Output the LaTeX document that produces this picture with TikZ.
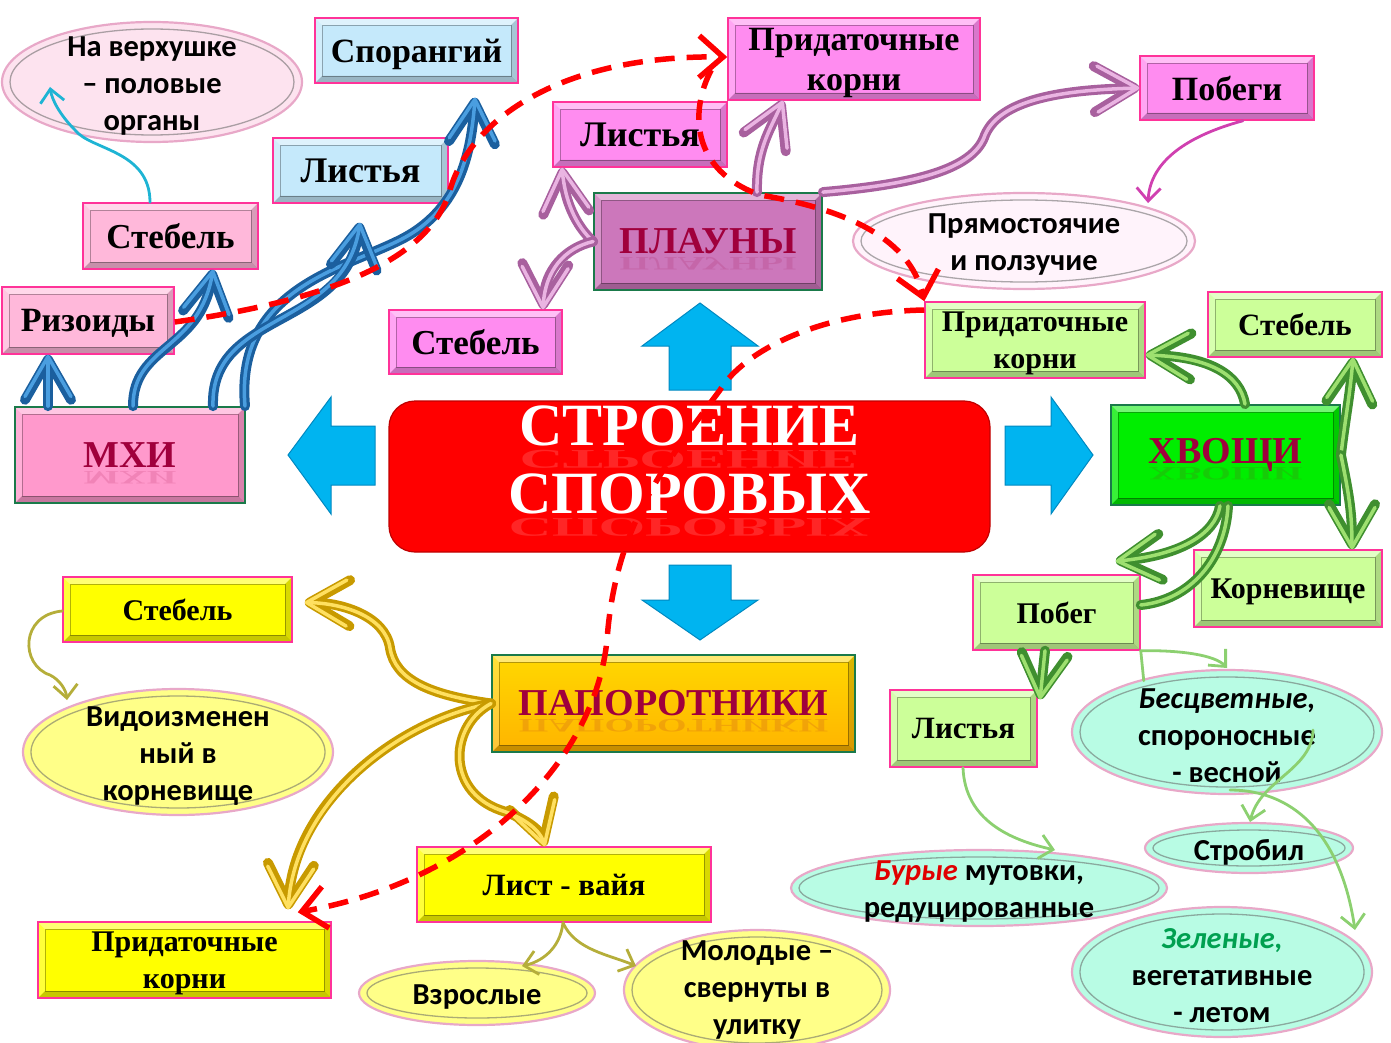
\documentclass[tikz,border=0pt]{standalone}
\usepackage{fontspec}
\setmainfont{Liberation Serif}
\newfontfamily\calib{Carlito}
\usetikzlibrary{arrows.meta,calc}

\definecolor{pinkedge}{HTML}{FF3399}
\definecolor{catedge}{HTML}{1A7A4A}
\definecolor{catred}{HTML}{A0003C}
\definecolor{mosspink}{HTML}{FFB8DA}
\definecolor{bluebox}{HTML}{C5E9FB}
\definecolor{plapink}{HTML}{FF8CF0}
\definecolor{greenbox}{HTML}{CCFF99}
\definecolor{yellowbox}{HTML}{FFFF00}
\definecolor{mxicol}{HTML}{FF99CC}
\definecolor{placol}{HTML}{CC77BB}
\definecolor{hvocol}{HTML}{00EE00}
\definecolor{papTop}{HTML}{FFD800}
\definecolor{papBot}{HTML}{FFB400}
\definecolor{titlered}{HTML}{FF0000}
\definecolor{arrowblue}{HTML}{00B4F0}
\definecolor{arrowblueD}{HTML}{0088C0}
\definecolor{ovpink}{HTML}{FDE3EF}
\definecolor{ovlight}{HTML}{FFF3FB}
\definecolor{ovmint}{HTML}{B8FCE4}
\definecolor{ovyellow}{HTML}{FFFF88}
\definecolor{ovedge}{HTML}{E8A8C8}
\definecolor{burred}{HTML}{E00000}
\definecolor{zelgreen}{HTML}{00A050}
\definecolor{mossD}{HTML}{1B5F9E}
\definecolor{mossL}{HTML}{4A9EE0}
\definecolor{plaD}{HTML}{A8609E}
\definecolor{plaL}{HTML}{EAB4E2}
\definecolor{hvoD}{HTML}{3F8F2F}
\definecolor{hvoL}{HTML}{9EE070}
\definecolor{papD}{HTML}{C89A00}
\definecolor{papL}{HTML}{FFE060}
\definecolor{thcyan}{HTML}{1EB4D4}
\definecolor{thpink}{HTML}{D040B0}
\definecolor{thgreen}{HTML}{8CD070}
\definecolor{tholive}{HTML}{B5AE3A}
\definecolor{dashred}{HTML}{FF0000}

\tikzset{
  bevel/.style={path picture={
    \fill[white,opacity=.45] (path picture bounding box.north west) -- (path picture bounding box.north east) -- ([shift={(-7pt,-7pt)}]path picture bounding box.north east) -- ([shift={(7pt,-7pt)}]path picture bounding box.north west) -- cycle;
    \fill[white,opacity=.22] (path picture bounding box.north west) -- (path picture bounding box.south west) -- ([shift={(7pt,7pt)}]path picture bounding box.south west) -- ([shift={(7pt,-7pt)}]path picture bounding box.north west) -- cycle;
    \fill[black,opacity=.22] (path picture bounding box.south west) -- (path picture bounding box.south east) -- ([shift={(-7pt,7pt)}]path picture bounding box.south east) -- ([shift={(7pt,7pt)}]path picture bounding box.south west) -- cycle;
    \fill[black,opacity=.15] (path picture bounding box.north east) -- (path picture bounding box.south east) -- ([shift={(-7pt,7pt)}]path picture bounding box.south east) -- ([shift={(-7pt,-7pt)}]path picture bounding box.north east) -- cycle;
    \draw[black,opacity=.3,line width=.8pt] ([shift={(7pt,-7pt)}]path picture bounding box.north west) rectangle ([shift={(-7pt,7pt)}]path picture bounding box.south east);
  }},
  fs/.style 2 args={font=\bfseries\fontsize{#1}{#2}\selectfont},
  sub/.style={rectangle, draw=pinkedge, line width=1.5pt, fill=#1, bevel, align=center, inner sep=1pt, text depth=0pt, fs={34}{40}},
  cat/.style={rectangle, draw=catedge, line width=1.8pt, fill=#1, bevel, inner sep=1pt, text=catred, fs={38}{40}},
  refl/.style={anchor=base, yscale=-0.5, transform shape, opacity=.14, text=catred, inner sep=0pt, fs={38}{40}},
  titlebox/.style={rectangle, rounded corners=26pt, fill=titlered, draw=titlered!75!black, line width=1.2pt},
  titletext/.style={anchor=base, text=white, inner sep=0pt, fs={60}{68}},
  ovalshape/.style={draw=ovedge, line width=2.2pt},
  ovalring/.style={draw=black!60, opacity=.55, line width=1.3pt},
  ovaltext/.style={align=center, inner sep=0pt, font=\calib\bfseries\fontsize{30.5}{37}\selectfont},
  tube/.style 2 args={line width=10pt, draw=#1, line cap=round, line join=round, postaction={draw=#2, line width=3.5pt}},
  tubetip/.style={-{Straight Barb[length=40pt,width=46pt,round]}},
  thin/.style={line width=2.8pt, draw=#1, line cap=round, -{Straight Barb[length=13pt,width=24pt]}},
  thinline/.style={line width=2.8pt, draw=#1, line cap=round},
  reddash/.style={line width=5.5pt, draw=dashred, dash pattern=on 20pt off 12pt, -{Straight Barb[length=24pt,width=42pt]}},
  barrow/.style={fill=arrowblue, draw=arrowblueD, line width=1pt, line join=miter}
}

\newcommand\mybox[7]{\node[#6, minimum width={#4-#2}, minimum height={#5-#3}] (#1) at ({(#2+#4)/2},{-(#3+#5)/2}) {#7};}
\newcommand\myoval[7]{%
  \path[ovalshape, fill=#6] (#2,-#3) ellipse [x radius=#4, y radius=#5];
  \path[ovalring] (#2,-#3) ellipse [x radius={#4-8}, y radius={#5-7}];
  \node[ovaltext] (#1) at (#2,{-#3-4}) {#7};}

\begin{document}
\begin{tikzpicture}[x=1pt,y=1pt]
\useasboundingbox (0,0) rectangle (1391,-1043);

% ---------- ellipses ----------
\myoval{e1}{152}{82}{150}{60}{ovpink}{На верхушке\\– половые\\органы}
\myoval{e2}{1024}{241}{171}{48}{ovlight}{Прямостоячие\\и ползучие}
\myoval{e3}{1227}{732}{155}{62}{ovmint}{\textit{Бесцветные,}\\спороносные\\- весной}
\myoval{e4}{1249}{848}{104}{25}{ovmint}{Стробил}
\myoval{e5}{979}{888}{188}{38}{ovmint}{\textcolor{burred}{\textit{Бурые}} мутовки,\\редуцированные}
\myoval{e6}{1222}{972}{150}{65}{ovmint}{\textcolor{zelgreen}{\textit{Зеленые,}}\\вегетативные\\- летом}
\myoval{e7}{178}{752}{155}{63}{ovyellow}{Видоизменен\\ный в\\корневище}
\myoval{e8}{477}{993}{118}{32}{ovyellow}{Взрослые}
\path[ovalshape, fill=ovyellow] (757,-990) ellipse [x radius=133, y radius=60];
\path[ovalring] (757,-990) ellipse [x radius=125, y radius=53];
\node[ovaltext] (e9) at (757,-990) {Молодые –\\свернуты в\\улитку};

% ---------- boxes ----------
\mybox{spor}{315}{18}{518}{83}{sub=bluebox}{Спорангий}
\mybox{lmb}{273}{138}{448}{203}{sub=bluebox, fs={36}{40}}{Листья}
\mybox{stm}{83}{203}{258}{269}{sub=mosspink, fs={35}{40}}{Стебель}
\mybox{riz}{2}{287}{174}{354}{sub=mosspink}{Ризоиды}
\mybox{mxi}{15}{407}{245}{503}{cat=mxicol}{МХИ}
\mybox{prp}{728}{18}{980}{100}{sub=plapink}{Придаточные\\корни}
\mybox{lpl}{553}{102}{727}{167}{sub=plapink, fs={36}{40}}{Листья}
\mybox{pob}{1140}{56}{1314}{120}{sub=plapink}{Побеги}
\mybox{pla}{594}{193}{822}{290}{cat=placol}{ПЛАУНЫ}
\mybox{spl}{389}{310}{562}{374}{sub=plapink, fs={35}{40}}{Стебель}
\mybox{prg}{925}{302}{1145}{378}{sub=greenbox, fs={30}{37}}{Придаточные\\корни}
\mybox{stg}{1208}{292}{1382}{357}{sub=greenbox, fs={31}{37}}{Стебель}
\mybox{hvo}{1111}{405}{1340}{505}{cat=hvocol}{ХВОЩИ}
\mybox{kor}{1194}{550}{1382}{627}{sub=greenbox, fs={30}{37}}{Корневище}
\mybox{pobg}{973}{575}{1140}{650}{sub=greenbox, fs={30}{37}}{Побег}
\mybox{lg}{890}{690}{1037}{767}{sub=greenbox, fs={31}{37}}{Листья}
\mybox{pap}{492}{655}{855}{752}{cat=papBot, top color=papTop, bottom color=papBot}{ПАПОРОТНИКИ}
\mybox{sty}{63}{577}{292}{642}{sub=yellowbox, fs={30}{37}}{Стебель}
\mybox{pry}{38}{922}{331}{998}{sub=yellowbox, fs={30}{37}}{Придаточные\\корни}
\mybox{lv}{417}{847}{711}{922}{sub=yellowbox, fs={31}{37}}{Лист - вайя}

% reflections of category names
\node[refl] (mxir) at ([yshift=-4pt]mxi.base) {МХИ};
\node[refl] (plar) at ([yshift=-4pt]pla.base) {ПЛАУНЫ};
\node[refl] (hvor) at ([yshift=-4pt]hvo.base) {ХВОЩИ};
\node[refl] (papr) at ([yshift=-4pt]pap.base) {ПАПОРОТНИКИ};

% ---------- title ----------
\node[titlebox, minimum width=601, minimum height=151] (title) at (689.5,-476.5) {};
\node[titletext] (titleA) at (689.5,-445) {СТРОЕНИЕ};
\node[titletext] (titleB) at (689.5,-513) {СПОРОВЫХ};
\node[titletext, yscale=-0.45, transform shape, opacity=.15] (titleAr) at (689.5,-450) {СТРОЕНИЕ};
\node[titletext, yscale=-0.45, transform shape, opacity=.15] (titleBr) at (689.5,-518) {СПОРОВЫХ};

% ---------- blue block arrows ----------
\path[barrow] (700,-303) -- (758,-346) -- (731,-346) -- (731,-390) -- (669,-390) -- (669,-346) -- (642,-346) -- cycle;
\path[barrow] (700,-640) -- (758,-600) -- (731,-600) -- (731,-565) -- (669,-565) -- (669,-600) -- (642,-600) -- cycle;
\path[barrow] (288,-455) -- (331,-397) -- (331,-426) -- (375,-426) -- (375,-485) -- (331,-485) -- (331,-514) -- cycle;
\path[barrow] (1093,-455) -- (1051,-397) -- (1051,-426) -- (1005,-426) -- (1005,-485) -- (1051,-485) -- (1051,-514) -- cycle;

% ---------- mosses ----------
\draw[tube={mossD}{mossL}, tubetip] (48,0 |- mxi.north) -- (riz.south -| 48,0);
\draw[tube={mossD}{mossL}, tubetip] (133,0 |- mxi.north) .. controls (133,-345) and (200,-350) .. (stm.south -| 213,0);
\draw[tube={mossD}{mossL}, tubetip] (245,0 |- mxi.north) .. controls (235,-290) and (340,-270) .. (400,-240) .. controls (450,-215) and (470,-170) .. ($(spor.south -| 475,0)+(0,-14)$);
\draw[tube={mossD}{mossL}, tubetip] (213,0 |- mxi.north) .. controls (210,-310) and (345,-330) .. ($(lmb.south -| 360,0)+(0,-19)$);
\draw[thin=thcyan] (stm.north -| 150,0) .. controls (150,-150) and (90,-150) .. (75,-130) .. controls (60,-115) and (52,-100) .. ($(e1.center)+(-102,-1)$);

% ---------- plauny ----------
\draw[tube={plaD}{plaL}, tubetip] (pla.west) .. controls (575,-225) and (565,-200) .. (lpl.south -| 562,0);
\draw[tube={plaD}{plaL}, tubetip] (pla.west) .. controls (565,-248) and (545,-270) .. (spl.north -| 543,0);
\draw[tube={plaD}{plaL}, tubetip] (pla.north -| 757,0) .. controls (756,-150) and (770,-130) .. (prp.south -| 783,0);
\draw[tube={plaD}{plaL}, tubetip] (pla.north east) .. controls (930,-183) and (975,-165) .. (985,-135) .. controls (1000,-100) and (1060,-90) .. (pob.west);
\draw[thin=thpink] (pob.south -| 1243,0) .. controls (1190,-135) and (1150,-160) .. ($(e2.center)+(124,42)$);

% ---------- horsetails ----------
\draw[tube={hvoD}{hvoL}] (hvo.south -| 1228,0) .. controls (1225,-560) and (1190,-600) .. (pobg.east |- 0,-605);
\draw[tube={hvoD}{hvoL}, tubetip] (hvo.north -| 1245,0) .. controls (1240,-375) and (1210,-357) .. (prg.east |- 0,-355);
\draw[tube={hvoD}{hvoL}, tubetip] (hvo.east |- 0,-455) .. controls (1345,-420) and (1350,-395) .. (stg.south -| 1353,0);
\draw[tube={hvoD}{hvoL}, tubetip] (hvo.east |- 0,-455) .. controls (1348,-490) and (1352,-510) .. (kor.north -| 1352,0);
\draw[tube={hvoD}{hvoL}, tubetip] (hvo.south -| 1220,0) .. controls (1215,-535) and (1180,-555) .. ($(pobg.north east)+(-25,13)$);
\draw[tube={hvoD}{hvoL}, tubetip] (pobg.south -| 1045,0) -- ($(lg.north -| 1040,0)+(0,-10)$);
\draw[thinline=thgreen] (pobg.south east) -- ++(3,-30);
\draw[thin=thgreen] (pobg.south east) .. controls (1180,-650) and (1215,-655) .. ($(e3.center)+(0,68)$);
\draw[thin=thgreen] (lg.south -| 963,0) .. controls (965,-820) and (1010,-840) .. ($(e5.center)+(76,42)$);
\draw[thin=thgreen] ($(e3.center)+(86,6)$) .. controls (1312,-770) and (1260,-780) .. ($(e4.center)+(1,30)$);
\draw[thin=thgreen] ($(e3.center)+(3,-54)$) .. controls (1290,-790) and (1340,-830) .. ($(e6.center)+(133,46)$);

% ---------- ferns ----------
\draw[tube={papD}{papL}, tubetip] (pap.west) .. controls (430,-695) and (395,-680) .. (390,-648) .. controls (385,-615) and (340,-603) .. ($(sty.east)+(12,7)$);
\draw[tube={papD}{papL}, tubetip] (pap.west) .. controls (400,-720) and (295,-800) .. ($(pry.north -| 288,0)+(0,12)$);
\draw[tube={papD}{papL}, tubetip] (pap.west) .. controls (450,-725) and (445,-790) .. (500,-810) .. controls (525,-818) and (540,-830) .. (lv.north -| 545,0);
\draw[thin=tholive] (sty.west |- 0,-611) .. controls (20,-615) and (20,-665) .. (50,-675) .. controls (60,-680) and (66,-690) .. ($(e7.center)+(-111,56)$);
\draw[thin=tholive] (lv.south -| 563,0) .. controls (560,-950) and (540,-962) .. ($(e8.center)+(45,31)$);
\draw[thin=tholive] (lv.south -| 563,0) .. controls (575,-950) and (610,-955) .. ($(e9.center)+(-121,24)$);

% ---------- red dashed ----------
\draw[reddash] (riz.east |- 0,-322) .. controls (330,-300) and (430,-260) .. (450,-190) .. controls (470,-120) and (560,-55) .. (prp.west |- 0,-57);
\draw[reddash] ($(prp.west)+(-16,-11)$) .. controls (690,-110) and (690,-170) .. (760,-195) .. controls (850,-210) and (910,-240) .. (prg.north west);
\draw[reddash] (prg.west |- 0,-310) .. controls (820,-312) and (745,-350) .. (720,-390) .. controls (660,-470) and (615,-530) .. (607,-640) .. controls (595,-760) and (480,-880) .. ($(pry.north east)+(-34,9)$);
\end{tikzpicture}
\end{document}
